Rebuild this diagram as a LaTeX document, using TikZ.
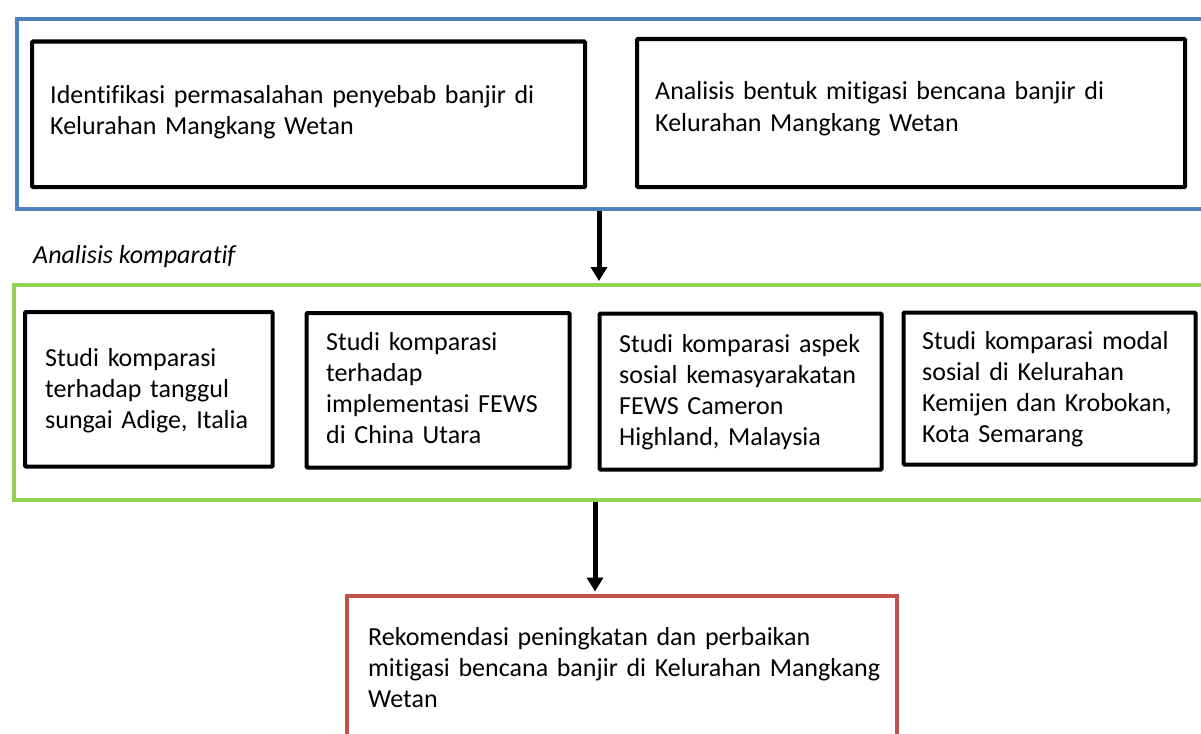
\documentclass[tikz,border=0pt]{standalone}
\usepackage{fontspec}
\setmainfont{Carlito}[Ligatures={NoCommon}]
\usetikzlibrary{arrows.meta}
\definecolor{grpblue}{HTML}{4F81BD}
\definecolor{grpgreen}{HTML}{92D050}
\definecolor{grpred}{HTML}{C0504D}
\tikzset{
  group/.style={draw, line width=4pt, anchor=north west, inner sep=0pt},
  stepbox/.style={draw=black, line width=4.2pt, anchor=north west, inner sep=0pt, rounded corners=1pt},
  txt/.style={anchor=base west, inner sep=0pt, align=left, font=\fontsize{26}{31.3}\selectfont},
  arr/.style={line width=5pt, -{Triangle[width=16pt,length=14pt]}},
}
\begin{document}
\begin{tikzpicture}[x=1pt,y=-1pt]
\useasboundingbox (0,0) rectangle (1201,733);
% group containers
\node[group, draw=grpblue, minimum width=1240, minimum height=190] (gA) at (14.5,17) {};
\node[group, draw=grpgreen, minimum width=1240, minimum height=215] (gB) at (12,282.5) {};
\node[group, draw=grpred, minimum width=549.5, minimum height=200] (gC) at (345,593.5) {};
% top boxes
\node[stepbox, minimum width=553, minimum height=145.5] (b1) at (30,39.5) {};
\node[stepbox, minimum width=548, minimum height=148] (b2) at (635,37) {};
\node[txt, text width=530] (t1) at (50,103) {Identifikasi permasalahan penyebab banjir di\\Kelurahan Mangkang Wetan};
\node[txt, text width=520] (t2) at (655,100) {Analisis bentuk mitigasi bencana banjir di\\Kelurahan Mangkang Wetan};
% label
\node[txt, font=\fontsize{26}{31.3}\selectfont\itshape] (lab) at (33,263) {Analisis komparatif};
% comparison boxes
\node[stepbox, minimum width=247.5, minimum height=154.5] (c1) at (23,310) {};
\node[stepbox, minimum width=263, minimum height=154.5] (c2) at (304.5,311) {};
\node[stepbox, minimum width=282, minimum height=156] (c3) at (597.5,311.5) {};
\node[stepbox, minimum width=292, minimum height=152] (c4) at (901.5,310.5) {};
\node[txt, text width=230] (s1) at (45,366) {Studi komparasi\\terhadap tanggul\\sungai Adige, Italia};
\node[txt, text width=240] (s2) at (326,350) {Studi komparasi\\terhadap\\implementasi FEWS\\di China Utara};
\node[txt, text width=260] (s3) at (619,352) {Studi komparasi aspek\\sosial kemasyarakatan\\FEWS Cameron\\Highland, Malaysia};
\node[txt, text width=270] (s4) at (922,349) {Studi komparasi modal\\sosial di Kelurahan\\Kemijen dan Krobokan,\\Kota Semarang};
% recommendation text
\node[txt, text width=520] (r1) at (368,645) {Rekomendasi peningkatan dan perbaikan\\mitigasi bencana banjir di Kelurahan Mangkang\\Wetan};
% connectors
\coordinate (ax1) at (599,0);
\coordinate (ax2) at (595,0);
\draw[arr, shorten >=1.5pt] (ax1 |- gA.south) -- (ax1 |- gB.north);
\draw[arr, shorten >=2pt] (ax2 |- gB.south) -- (ax2 |- gC.north);
\end{tikzpicture}
\end{document}
